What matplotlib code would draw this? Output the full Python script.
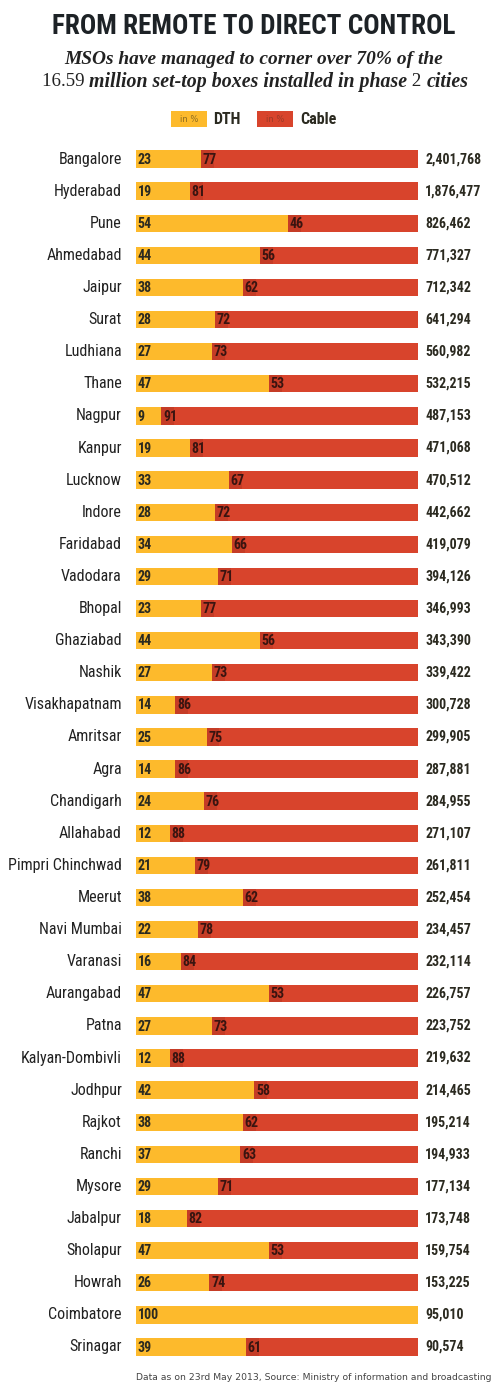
import matplotlib
matplotlib.use("Agg")
import matplotlib.pyplot as plt
from matplotlib.patches import Rectangle
from matplotlib import font_manager as fm

cities = ["Bangalore", "Hyderabad", "Pune", "Ahmedabad", "Jaipur", "Surat", "Ludhiana",
          "Thane", "Nagpur", "Kanpur", "Lucknow", "Indore", "Faridabad", "Vadodara",
          "Bhopal", "Ghaziabad", "Nashik", "Visakhapatnam", "Amritsar", "Agra",
          "Chandigarh", "Allahabad", "Pimpri Chinchwad", "Meerut", "Navi Mumbai",
          "Varanasi", "Aurangabad", "Patna", "Kalyan-Dombivli", "Jodhpur", "Rajkot",
          "Ranchi", "Mysore", "Jabalpur", "Sholapur", "Howrah", "Coimbatore", "Srinagar"]
dth = [23, 19, 54, 44, 38, 28, 27, 47, 9, 19, 33, 28, 34, 29, 23, 44, 27, 14, 25, 14,
       24, 12, 21, 38, 22, 16, 47, 27, 12, 42, 38, 37, 29, 18, 47, 26, 100, 39]
cable = [77, 81, 46, 56, 62, 72, 73, 53, 91, 81, 67, 72, 66, 71, 77, 56, 73, 86, 75, 86,
         76, 88, 79, 62, 78, 84, 53, 73, 88, 58, 62, 63, 71, 82, 53, 74, 0, 61]
boxes = ["2,401,768", "1,876,477", "826,462", "771,327", "712,342", "641,294", "560,982",
         "532,215", "487,153", "471,068", "470,512", "442,662", "419,079", "394,126",
         "346,993", "343,390", "339,422", "300,728", "299,905", "287,881", "284,955",
         "271,107", "261,811", "252,454", "234,457", "232,114", "226,757", "223,752",
         "219,632", "214,465", "195,214", "194,933", "177,134", "173,748", "159,754",
         "153,225", "95,010", "90,574"]

YEL = "#FDBA2C"
RED = "#D8442C"
DRED = "#C53C26"
DARK = "#2B2A20"

# pick a condensed sans if available
names = {(f.name, f.stretch) for f in fm.fontManager.ttflist}
fam_names = {f.name for f in fm.fontManager.ttflist}
COND = dict(family="DejaVu Sans")
cond_ok = False
for nm in ["Roboto Condensed", "Liberation Sans Narrow", "Open Sans Condensed",
           "Noto Sans Condensed", "DejaVu Sans Condensed"]:
    if nm in fam_names:
        COND = dict(family=nm)
        cond_ok = True
        break
if not cond_ok:
    for nm in ["DejaVu Sans", "Noto Sans", "Roboto", "Open Sans"]:
        if any(n == nm and s in ("condensed", "semi-condensed", "extra-condensed")
               for n, s in names):
            COND = dict(family=nm, stretch="condensed")
            cond_ok = True
            break
SHRINK = 1.0 if cond_ok else 0.82

W, H = 500, 1393
fig = plt.figure(figsize=(W / 100, H / 100), dpi=100)
fig.patch.set_facecolor("white")
renderer = fig.canvas.get_renderer()

def fx(px):
    return px / W

def fy(px):
    return 1 - px / H

def fit_text(x, y, s, width_px, size0, ha="center", **kw):
    t = fig.text(x, y, s, ha=ha, va="center", fontsize=size0, **kw)
    w = t.get_window_extent(renderer).width
    t.set_fontsize(size0 * width_px / w)
    return t

n = len(cities)
top_px, bot_px = 143, 1363
ax = fig.add_axes([136 / W, 1 - bot_px / H, 282 / W, (bot_px - top_px) / H])
ax.set_xlim(0, 100)
ax.set_ylim(n - 0.5, -0.5)
ax.axis("off")

city_fs = 11.5 * SHRINK
val_fs = 10.0 * SHRINK
num_fs = 10.0 * SHRINK

bh = 0.54
ys = list(range(n))
ax.barh(ys, dth, height=bh, color=YEL, edgecolor="none")
ax.barh(ys, cable, left=dth, height=bh, color=RED, edgecolor="none")
for i in range(n):
    ax.text(0.6, i + 0.02, str(dth[i]), ha="left", va="center", fontsize=num_fs,
            weight="bold", color=DARK, **COND)
    if cable[i] > 0:
        ax.add_patch(Rectangle((dth[i], i - bh / 2), 4.6, bh, color=DRED, lw=0))
        ax.text(dth[i] + 0.6, i + 0.02, str(cable[i]), ha="left", va="center",
                fontsize=num_fs, weight="bold", color="#3a1410", **COND)
    ax.text(-5.0, i, cities[i], ha="right", va="center", fontsize=city_fs,
            color="#222222", **COND)
    ax.text(102.5, i, boxes[i], ha="left", va="center", fontsize=val_fs,
            weight="bold", color=DARK, **COND)

# title
t = fig.text(fx(254), fy(27), "FROM REMOTE TO DIRECT CONTROL", ha="center", va="center",
             fontsize=20, weight="bold", color="#1d2226", **COND)
w = t.get_window_extent(renderer).width
t.set_fontsize(min(20, 20 * 403 / w))

fit_text(fx(254), fy(60), "MSOs have managed to corner over 70% of the", 377, 13,
         family="Liberation Serif", style="italic", weight="bold", color="#222222")

# second subtitle line composed from upright and italic pieces
pieces = [("16.59 ", "normal"), ("million set-top boxes installed in phase", "italic"),
          (" 2 ", "normal"), ("cities", "italic")]

def line_width(fs):
    tot = 0
    for s, st in pieces:
        tt = fig.text(0, 0, s, fontsize=fs * (0.95 if st == "normal" else 1.0),
                      family="Liberation Serif", style=st,
                      weight="bold" if st == "italic" else "normal")
        tot += tt.get_window_extent(renderer).width
        tt.remove()
    return tot

sub_fs = 13.0 * 424 / line_width(13.0)
xcur = 42
for s, st in pieces:
    tt = fig.text(fx(xcur), fy(82), s, ha="left", va="center",
                  fontsize=sub_fs * (0.95 if st == "normal" else 1.0),
                  family="Liberation Serif", style=st,
                  weight="bold" if st == "italic" else "normal", color="#222222")
    xcur += tt.get_window_extent(renderer).width

# legend
fig.patches.append(Rectangle((fx(171), fy(127)), 36 / W, 16 / H, transform=fig.transFigure,
                             color=YEL, lw=0))
fig.text(fx(189), fy(119), "in %", ha="center", va="center", fontsize=6,
         family="DejaVu Sans", color="#8a6a20")
fig.text(fx(213), fy(120), "DTH", ha="left", va="center", fontsize=11.5 * SHRINK,
         weight="bold", color=DARK, **COND)
fig.patches.append(Rectangle((fx(257), fy(127)), 36 / W, 16 / H, transform=fig.transFigure,
                             color=RED, lw=0))
fig.text(fx(275), fy(119), "in %", ha="center", va="center", fontsize=6,
         family="DejaVu Sans", color="#9a3a28")
fig.text(fx(300), fy(120), "Cable", ha="left", va="center", fontsize=11.5 * SHRINK,
         weight="bold", color=DARK, **COND)

fit_text(fx(136), fy(1377),
         "Data as on 23rd May 2013, Source: Ministry of information and broadcasting",
         354, 7.2, ha="left", family="DejaVu Sans", color="#444444")

fig.savefig("out.png", dpi=100, facecolor="white")
